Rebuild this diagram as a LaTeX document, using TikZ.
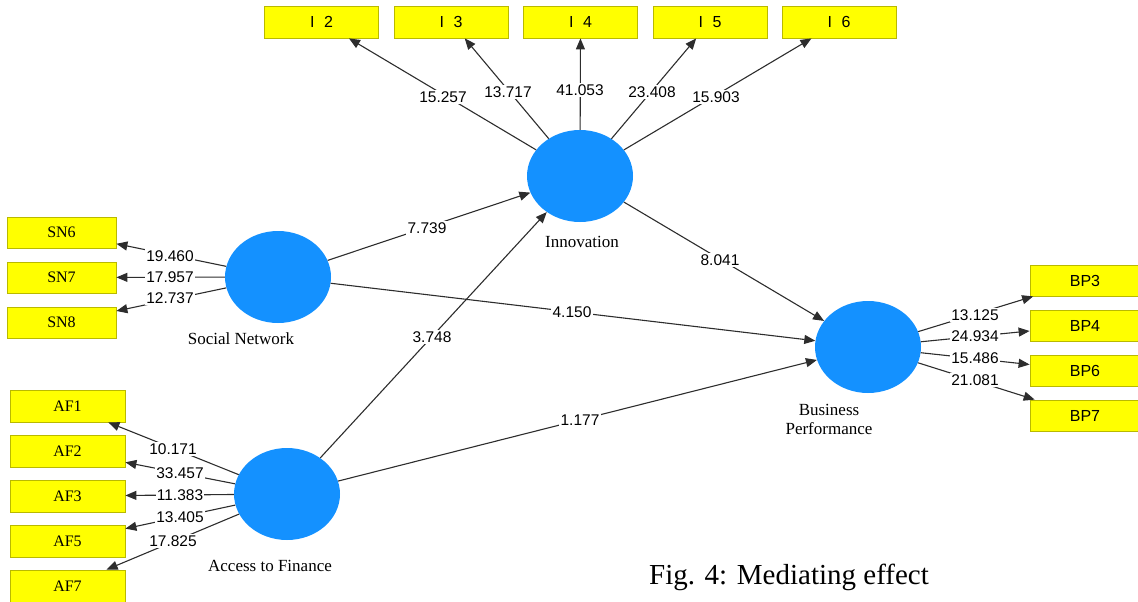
\documentclass[tikz,border=0pt]{standalone}
\usepackage{fontspec}
\setmainfont{Liberation Serif}
\newfontfamily\numfont{Liberation Sans}
\usetikzlibrary{shapes.geometric,arrows.meta}
\definecolor{boxyellow}{RGB}{255,255,0}
\definecolor{boxedge}{RGB}{185,185,0}
\definecolor{latentblue}{RGB}{20,145,255}
\definecolor{linegray}{RGB}{45,45,45}
\begin{document}
\begin{tikzpicture}[x=1pt,y=-1pt,
 latent/.style={ellipse, fill=latentblue, draw=none, minimum width=106pt, minimum height=92pt, inner sep=0pt},
 ind/.style={rectangle, fill=boxyellow, draw=boxedge, line width=0.8pt, minimum height=32pt, inner sep=0pt},
 serifind/.style={ind, font=\fontsize{16}{18}\selectfont},
 sansind/.style={ind, font=\numfont\fontsize{16}{18}\selectfont},
 coef/.style={fill=white, inner sep=1.2pt, font=\numfont\fontsize{15.5}{17}\selectfont},
 lvname/.style={font=\fontsize{17}{19}\selectfont, align=center},
 conn/.style={draw=linegray, line width=1.1pt, -{Triangle[length=11pt,width=9pt]}},
]
\useasboundingbox (0,0) rectangle (1138,602);

% latent variables
\node[latent] (inn) at (580,176) {};
\node[latent] (sn) at (278,277) {};
\node[latent] (af) at (287,494) {};
\node[latent] (bp) at (868,347) {};

\node[lvname] (innlbl) at (582,242) {Innovation};
\node[lvname] (snlbl) at (241,339) {Social Network};
\node[lvname] (aflbl) at (270,566) {Access to Finance};
\node[lvname] (bplbl) at (829,419) {Business\\Performance};

% indicators: innovation
\node[sansind, minimum width=114pt] (i2) at (321.5,22) {I\hspace{0.6em}2};
\node[sansind, minimum width=114pt] (i3) at (451,22) {I\hspace{0.6em}3};
\node[sansind, minimum width=114pt] (i4) at (580.5,22) {I\hspace{0.6em}4};
\node[sansind, minimum width=114pt] (i5) at (710,22) {I\hspace{0.6em}5};
\node[sansind, minimum width=114pt] (i6) at (839,22) {I\hspace{0.6em}6};

% indicators: social network
\node[serifind, minimum width=109pt, minimum height=31pt] (sn6) at (61.5,232.5) {SN6};
\node[serifind, minimum width=109pt, minimum height=31pt] (sn7) at (61.5,277.5) {SN7};
\node[serifind, minimum width=109pt, minimum height=31pt] (sn8) at (61.5,322.5) {SN8};

% indicators: access to finance
\node[serifind, minimum width=115pt] (af1) at (67.5,406) {AF1};
\node[serifind, minimum width=115pt] (af2) at (67.5,451) {AF2};
\node[serifind, minimum width=115pt] (af3) at (67.5,496) {AF3};
\node[serifind, minimum width=115pt] (af5) at (67.5,541) {AF5};
\node[serifind, minimum width=115pt] (af7) at (67.5,586) {AF7};

% indicators: business performance
\node[sansind, minimum width=110pt, minimum height=31pt] (bp3) at (1085,280.5) {BP3};
\node[sansind, minimum width=110pt, minimum height=31pt] (bp4) at (1085,325.5) {BP4};
\node[sansind, minimum width=110pt, minimum height=31pt] (bp6) at (1085,370.5) {BP6};
\node[sansind, minimum width=110pt, minimum height=31pt] (bp7) at (1085,415.5) {BP7};

% outer loadings
\draw[conn] (inn) -- (i2);
\draw[conn] (inn) -- (i3);
\draw[conn] (inn) -- (i4);
\draw[conn] (inn) -- (i5);
\draw[conn] (inn) -- (i6);
\draw[conn] (sn) -- (sn6);
\draw[conn] (sn) -- (sn7);
\draw[conn] (sn) -- (sn8);
\draw[conn] (af) -- (af1);
\draw[conn] (af) -- (af2);
\draw[conn] (af) -- (af3);
\draw[conn] (af) -- (af5);
\draw[conn] (af) -- (af7);
\draw[conn] (bp) -- (bp3);
\draw[conn] (bp) -- (bp4);
\draw[conn] (bp) -- (bp6);
\draw[conn] (bp) -- (bp7);

% structural paths
\draw[conn] (sn) -- (inn);
\draw[conn] (af) -- (inn);
\draw[conn] (sn) -- (bp);
\draw[conn] (af) -- (bp);
\draw[conn] (inn) -- (bp);

% coefficient labels
\node[coef] (c1) at (443,97) {15.257};
\node[coef] (c2) at (508,92) {13.717};
\node[coef] (c3) at (580,90) {41.053};
\node[coef] (c4) at (652,92) {23.408};
\node[coef] (c5) at (716,97) {15.903};

\node[coef] (c6) at (170,256) {19.460};
\node[coef] (c7) at (170,277) {17.957};
\node[coef] (c8) at (170,298) {12.737};

\node[coef] (c9) at (173,449) {10.171};
\node[coef] (c10) at (180,473) {33.457};
\node[coef] (c11) at (180,495) {11.383};
\node[coef] (c12) at (180,517) {13.405};
\node[coef] (c13) at (173,541) {17.825};

\node[coef] (c14) at (975,315) {13.125};
\node[coef] (c15) at (975,336) {24.934};
\node[coef] (c16) at (975,358) {15.486};
\node[coef] (c17) at (975,380) {21.081};

\node[coef] (c18) at (427,228) {7.739};
\node[coef] (c19) at (432,337) {3.748};
\node[coef] (c20) at (572,312) {4.150};
\node[coef] (c21) at (580,420) {1.177};
\node[coef] (c22) at (720,260) {8.041};

% caption
\node[font=\fontsize{29}{32}\selectfont] (cap) at (789,577) {Fig. 4: Mediating effect};
\end{tikzpicture}
\end{document}
